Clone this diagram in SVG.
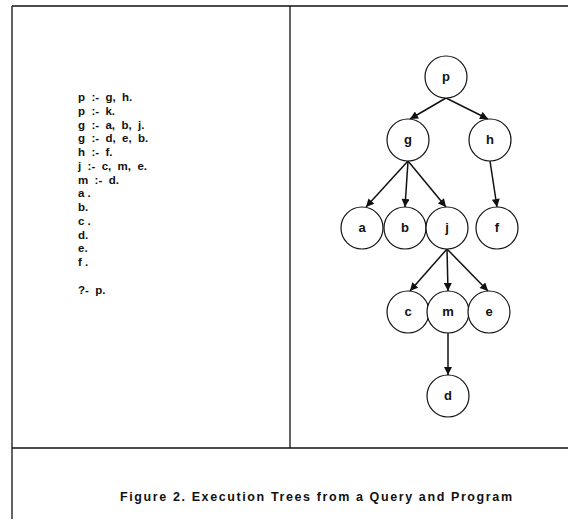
<svg xmlns="http://www.w3.org/2000/svg" width="568" height="521" viewBox="0 0 568 521">
<style>
.frame{stroke:#111;stroke-width:1.3;fill:none}
.code{font-family:"Liberation Sans",Arial,sans-serif;font-size:11.5px;font-weight:bold;fill:#111;white-space:pre}
.node circle{fill:#fff;stroke:#111;stroke-width:1.2}
.node text{font-family:"Liberation Sans",Arial,sans-serif;font-size:13px;font-weight:bold;fill:#111;text-anchor:middle}
.edge{stroke:#111;stroke-width:1.5;fill:none;marker-end:url(#ah)}
.cap{font-family:"Liberation Sans",Arial,sans-serif;font-size:12.5px;font-weight:bold;fill:#111}
</style>
<defs>
<marker id="ah" viewBox="0 0 10 10" refX="10" refY="5" markerWidth="9" markerHeight="8" orient="auto" markerUnits="userSpaceOnUse">
<path d="M0,0 L10,5 L0,10 z" fill="#111"/>
</marker>
</defs>
<rect width="568" height="521" fill="#fff"/>
<g id="frame">
<line class="frame" x1="12" y1="6" x2="568" y2="6"/>
<line class="frame" x1="12" y1="6" x2="12" y2="519"/>
<line class="frame" x1="290" y1="6" x2="290" y2="448"/>
<line class="frame" x1="12" y1="448" x2="568" y2="448"/>
</g>
<g id="program">
<text class="code" x="78" y="101">p  :-  g,  h.</text>
<text class="code" x="78" y="115">p  :-  k.</text>
<text class="code" x="78" y="129">g  :-  a,  b,  j.</text>
<text class="code" x="78" y="142">g  :-  d,  e,  b.</text>
<text class="code" x="78" y="156">h  :-  f.</text>
<text class="code" x="78" y="170">j  :-  c,  m,  e.</text>
<text class="code" x="78" y="184">m  :-  d.</text>
<text class="code" x="78" y="197">a .</text>
<text class="code" x="78" y="211">b.</text>
<text class="code" x="78" y="225">c .</text>
<text class="code" x="78" y="239">d.</text>
<text class="code" x="78" y="252">e.</text>
<text class="code" x="78" y="266">f .</text>
<text class="code" x="78" y="294">?-  p.</text>
</g>
<g id="connectors">
<line class="edge" x1="446" y1="98" x2="410" y2="119"/>
<line class="edge" x1="446" y1="98" x2="488" y2="119"/>
<line class="edge" x1="408" y1="161" x2="366" y2="207"/>
<line class="edge" x1="408" y1="161" x2="405" y2="207"/>
<line class="edge" x1="408" y1="161" x2="446" y2="207"/>
<line class="edge" x1="490" y1="161" x2="497" y2="207"/>
<line class="edge" x1="447" y1="249" x2="410" y2="291"/>
<line class="edge" x1="447" y1="249" x2="448" y2="291"/>
<line class="edge" x1="447" y1="249" x2="488" y2="291"/>
<line class="edge" x1="448" y1="333" x2="448" y2="375"/>
</g>
<g id="node-p" class="node"><circle cx="446" cy="77" r="21"/><text x="446" y="81">p</text></g>
<g id="node-g" class="node"><circle cx="408" cy="140" r="21"/><text x="408" y="144">g</text></g>
<g id="node-h" class="node"><circle cx="490" cy="140" r="21"/><text x="490" y="144">h</text></g>
<g id="node-a" class="node"><circle cx="362" cy="228" r="21"/><text x="362" y="232">a</text></g>
<g id="node-b" class="node"><circle cx="405" cy="228" r="21"/><text x="405" y="232">b</text></g>
<g id="node-j" class="node"><circle cx="447" cy="228" r="21"/><text x="447" y="232">j</text></g>
<g id="node-f" class="node"><circle cx="497" cy="228" r="21"/><text x="497" y="232">f</text></g>
<g id="node-c" class="node"><circle cx="408" cy="312" r="21"/><text x="408" y="316">c</text></g>
<g id="node-m" class="node"><circle cx="448" cy="312" r="21"/><text x="448" y="316">m</text></g>
<g id="node-e" class="node"><circle cx="489" cy="312" r="21"/><text x="489" y="316">e</text></g>
<g id="node-d" class="node"><circle cx="448" cy="396" r="21"/><text x="448" y="400">d</text></g>
<text class="cap" x="120" y="501" textLength="392" lengthAdjust="spacing">Figure 2. Execution Trees from a Query and Program</text>
</svg>
